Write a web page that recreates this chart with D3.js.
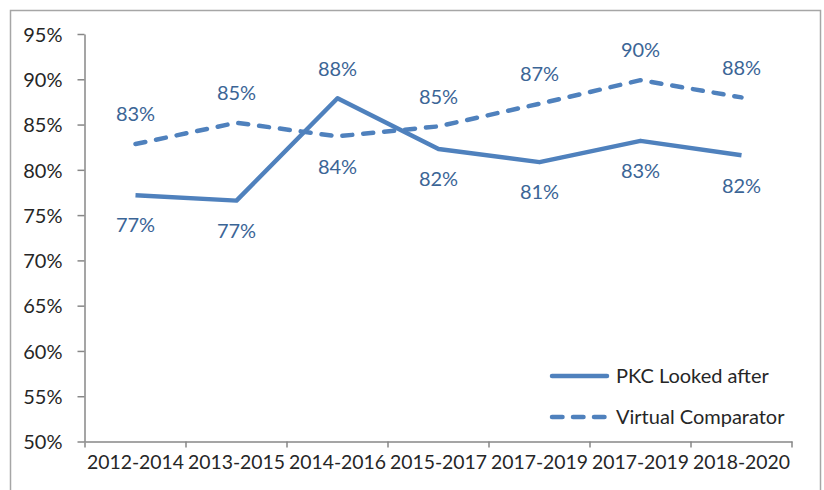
<!DOCTYPE html>
<html><head><meta charset="utf-8">
<script src="https://cdn.jsdelivr.net/npm/d3@7"></script>
<style>body{margin:0;background:#fff}svg{display:block}</style>
</head><body>
<svg id="c" width="824" height="490"></svg>
<script>
const categories = ["2012-2014","2013-2015","2014-2016","2015-2017","2017-2019","2017-2019","2018-2020"];
const pkcValues = [77.2, 76.6, 87.9, 82.3, 80.85, 83.2, 81.6];
const comparatorValues = [82.85, 85.2, 83.7, 84.8, 87.3, 89.9, 88.0];
const pkcLabels = ["77%","77%","88%","82%","81%","83%","82%"];
const comparatorLabels = ["83%","85%","84%","85%","87%","90%","88%"];
const yTicks = [50,55,60,65,70,75,80,85,90,95];
const seriesNames = ["PKC Looked after","Virtual Comparator"];

const svg = d3.select("#c");
const font = "Lato, 'Open Sans', sans-serif";
const fs = 20;
const blue = "#4F81BD", labelBlue = "#3B6596", axisGray = "#878787", text = "#262626";

svg.append("rect").attr("x",10.5).attr("y",10.5).attr("width",810).attr("height",490)
  .attr("fill","none").attr("stroke","#a6a6a6").attr("stroke-width",1.5);

const x = d3.scaleBand().domain(d3.range(categories.length)).range([85,792]);
const y = d3.scaleLinear().domain([50,95]).range([441.5,34]);

// y axis
const yAxis = svg.append("g").attr("transform","translate(84.5,0)")
  .call(d3.axisLeft(y).tickValues(yTicks).tickSize(7).tickSizeOuter(0).tickPadding(15).tickFormat(d=>d+"%"));
yAxis.select(".domain").attr("stroke",axisGray).attr("stroke-width",1.5);
yAxis.selectAll(".tick line").attr("stroke",axisGray).attr("stroke-width",1.5);
yAxis.selectAll("text").attr("font-family",font).attr("font-size",fs).attr("fill",text).attr("dy","0.36em");

// x axis
const xAxis = svg.append("g").attr("transform","translate(0,441.5)")
  .call(d3.axisBottom(x).tickSize(0).tickFormat(i=>categories[i]).tickPadding(14));
xAxis.select(".domain").attr("stroke",axisGray).attr("stroke-width",1.5);
xAxis.selectAll("text").attr("font-family",font).attr("font-size",19.4).attr("fill",text);
const edges = d3.range(categories.length+1).map(i => i<categories.length ? x(i) : x(i-1)+x.bandwidth());
xAxis.selectAll(".edge").data(edges).enter().append("line").attr("class","edge")
  .attr("x1",d=>d).attr("x2",d=>d).attr("y1",0).attr("y2",6)
  .attr("stroke",axisGray).attr("stroke-width",1.5);

const cx = i => x(i) + x.bandwidth()/2;
const line = d3.line().x((d,i)=>cx(i)).y(d=>y(d));

svg.append("path").datum(comparatorValues).attr("d",line).attr("fill","none")
  .attr("stroke",blue).attr("stroke-width",4.5).attr("stroke-dasharray","10,11")
  .attr("stroke-linecap","round").attr("stroke-linejoin","round");
svg.append("path").datum(pkcValues).attr("d",line).attr("fill","none")
  .attr("stroke",blue).attr("stroke-width",4.5).attr("stroke-linejoin","round");

// labels: pkc below except where above comparator
const lab = svg.append("g").attr("font-family",font).attr("font-size",fs).attr("fill",labelBlue).attr("text-anchor","middle");
pkcValues.forEach((v,i)=>{
  const above = v > comparatorValues[i];
  lab.append("text").attr("x",cx(i)).attr("y",y(v) + (above?-29:30)).attr("dy","0.36em").text(pkcLabels[i]);
});
comparatorValues.forEach((v,i)=>{
  const above = v >= pkcValues[i];
  lab.append("text").attr("x",cx(i)).attr("y",y(v) + (above?-30:30)).attr("dy","0.36em").text(comparatorLabels[i]);
});

// legend
const leg = svg.append("g");
[0,1].forEach(k=>{
  const ly = 376 + k*41;
  leg.append("line").attr("x1",552).attr("x2",607).attr("y1",ly).attr("y2",ly)
    .attr("stroke",blue).attr("stroke-width",4.5).attr("stroke-linecap","round")
    .attr("stroke-dasharray", k===1 ? "10.5,10.5" : null);
  leg.append("text").attr("x",616).attr("y",ly).attr("dy","0.36em")
    .attr("font-family",font).attr("font-size",fs).attr("fill",text).text(seriesNames[k]);
});
</script>
</body></html>
